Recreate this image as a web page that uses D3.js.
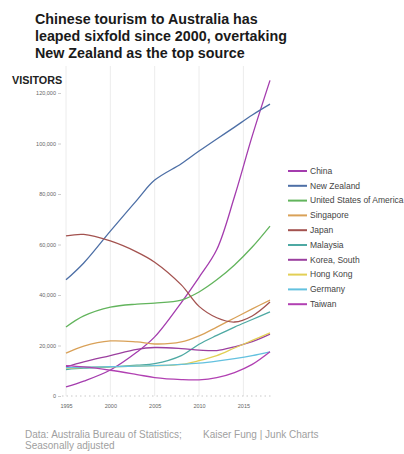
<!DOCTYPE html>
<html>
<head>
<meta charset="utf-8">
<script src="https://cdn.jsdelivr.net/npm/d3@7/dist/d3.min.js"></script>
<style>
  html, body { margin: 0; padding: 0; background: #fff; }
  svg { display: block; font-family: "Liberation Sans", Arial, sans-serif; }
</style>
</head>
<body>
<svg id="chart" width="404" height="454"></svg>
<script>
// Monthly visitor arrivals (seasonally adjusted) by source country
const years = [1995, 1997, 2000, 2003, 2005, 2008, 2010, 2012, 2014, 2016, 2018];

const china      = [3600, 5900, 10300, 17400, 23400, 37000, 47000, 58000, 79000, 103000, 125000];
const newZealand = [46000, 52700, 65300, 77600, 85500, 92000, 97000, 101800, 106500, 111300, 115600];
const usa        = [27300, 31700, 35200, 36400, 36800, 38000, 41200, 46000, 51900, 59000, 67300];
const singapore  = [17000, 19800, 21800, 21400, 20600, 21400, 23800, 27300, 30900, 34500, 38000];
const japan      = [63400, 64000, 61400, 57000, 53000, 44000, 35500, 31000, 29300, 31700, 37200];
const malaysia   = [10500, 11000, 11500, 12200, 12800, 16000, 20500, 24000, 27300, 30300, 33300];
const korea      = [11500, 13500, 16000, 18500, 19200, 18800, 18200, 18000, 19500, 21500, 24500];
const hongKong   = [11000, 11300, 11600, 11800, 12000, 12500, 14000, 16000, 19000, 22000, 25000];
const germany    = [11200, 11400, 11600, 11800, 12000, 12500, 13000, 13800, 14800, 16000, 17500];
const taiwan     = [12000, 11500, 10200, 8500, 7300, 6500, 6400, 7300, 9300, 12500, 17500];

const seriesNames  = ["China", "New Zealand", "United States of America", "Singapore", "Japan",
                      "Malaysia", "Korea, South", "Hong Kong", "Germany", "Taiwan"];
const seriesValues = [china, newZealand, usa, singapore, japan, malaysia, korea, hongKong, germany, taiwan];
const seriesColors = ["#a43cae", "#4d6fa6", "#62b45c", "#d9a158", "#a3524f",
                      "#4ea9a3", "#9b3f9f", "#e2cf55", "#63c1df", "#b140b2"];

const yTicks = [0, 20000, 40000, 60000, 80000, 100000, 120000];
const xTicks = [1995, 2000, 2005, 2010, 2015];

const svg = d3.select("#chart");

const x = d3.scaleLinear().domain([1995, 2018]).range([66, 270]);
const y = d3.scaleLinear().domain([0, 120000]).range([396, 93]);

// Title
const title = ["Chinese tourism to Australia has",
               "leaped sixfold since 2000, overtaking",
               "New Zealand as the top source"];
svg.append("g").selectAll("text").data(title).join("text")
  .attr("x", 35).attr("y", (d, i) => 24 + i * 17)
  .attr("font-size", 14.3).attr("font-weight", "bold").attr("fill", "#1a1a1a")
  .text(d => d);

svg.append("text").attr("x", 12).attr("y", 84)
  .attr("font-size", 10.8).attr("font-weight", "bold").attr("fill", "#222")
  .text("VISITORS");

// Vertical grid lines
svg.append("g").selectAll("line").data(xTicks).join("line")
  .attr("x1", d => x(d)).attr("x2", d => x(d))
  .attr("y1", 66).attr("y2", 396)
  .attr("stroke", "#ececec").attr("stroke-width", 1);

// Dotted baseline
svg.append("line")
  .attr("x1", 62).attr("x2", 272).attr("y1", y(0)).attr("y2", y(0))
  .attr("stroke", "#bbb").attr("stroke-width", 0.8).attr("stroke-dasharray", "1.5,3");

// Y axis
const yAxis = d3.axisLeft(y).tickValues(yTicks).tickSize(3).tickPadding(2)
  .tickFormat(d3.format(","));
const gy = svg.append("g").attr("transform", "translate(61,0)").call(yAxis);
gy.select(".domain").remove();
gy.selectAll(".tick line").attr("stroke", "#ccc");
gy.selectAll(".tick text").attr("font-size", 5.5).attr("fill", "#666")
  .attr("font-family", "Liberation Sans, Arial, sans-serif");

// X axis
const xAxis = d3.axisBottom(x).tickValues(xTicks).tickSize(0).tickPadding(8)
  .tickFormat(d3.format("d"));
const gx = svg.append("g").attr("transform", `translate(0,${y(0)})`).call(xAxis);
gx.select(".domain").remove();
gx.selectAll(".tick text").attr("font-size", 5.5).attr("fill", "#666")
  .attr("font-family", "Liberation Sans, Arial, sans-serif");

// Lines
const line = d3.line()
  .x((d, i) => x(years[i]))
  .y(d => y(d))
  .curve(d3.curveCatmullRom.alpha(0.5));

svg.append("g").selectAll("path").data(seriesValues).join("path")
  .attr("d", d => line(d))
  .attr("fill", "none")
  .attr("stroke", (d, i) => seriesColors[i])
  .attr("stroke-width", 1.3);

// Legend
const legend = svg.append("g").selectAll("g").data(seriesNames).join("g")
  .attr("transform", (d, i) => `translate(288,${171 + i * 14.8})`);
legend.append("line").attr("x1", 0).attr("x2", 19).attr("y1", 0).attr("y2", 0)
  .attr("stroke", (d, i) => seriesColors[i]).attr("stroke-width", 2);
legend.append("text").attr("x", 22).attr("y", 2.8)
  .attr("font-size", 8.5).attr("fill", "#444").text(d => d);

// Source note
svg.append("text").attr("x", 25).attr("y", 438).attr("font-size", 10).attr("fill", "#a0a0a0")
  .text("Data: Australia Bureau of Statistics;");
svg.append("text").attr("x", 25).attr("y", 449).attr("font-size", 10).attr("fill", "#a0a0a0")
  .text("Seasonally adjusted");
svg.append("text").attr("x", 203).attr("y", 438).attr("font-size", 10).attr("fill", "#a0a0a0")
  .text("Kaiser Fung | Junk Charts");
</script>
</body>
</html>
